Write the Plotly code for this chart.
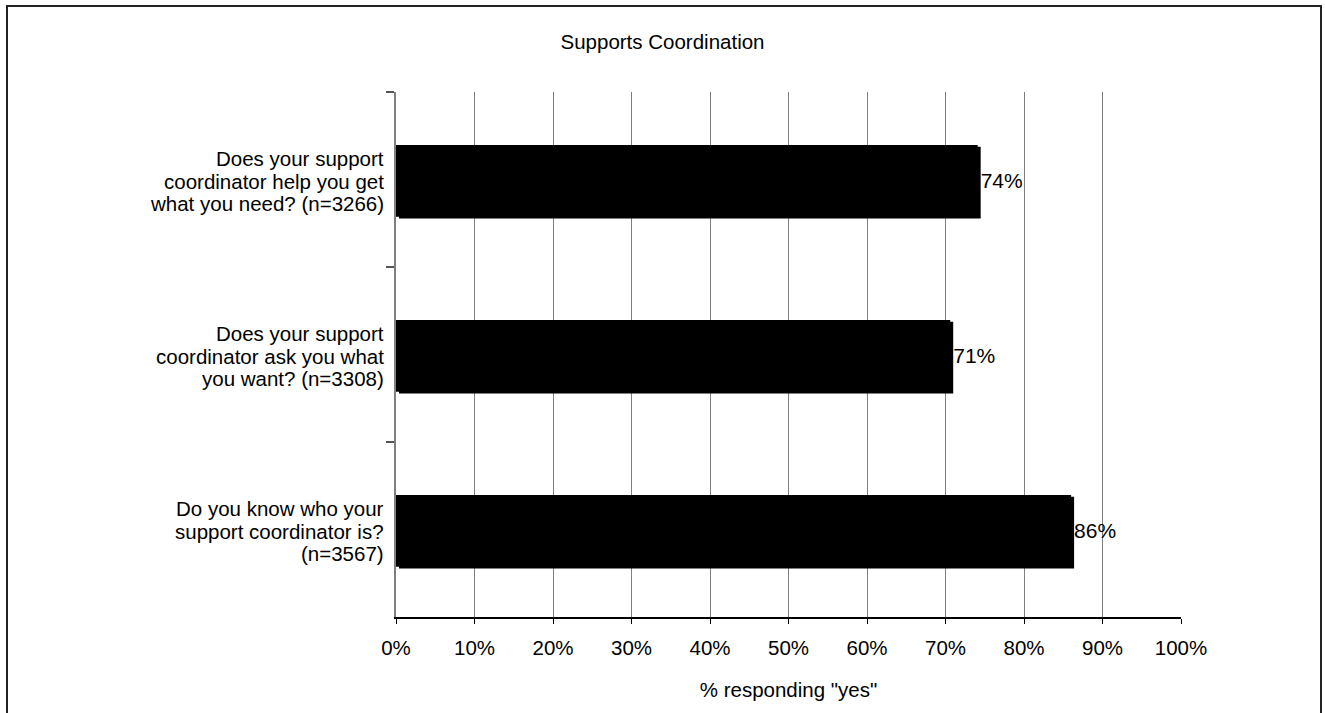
import plotly.graph_objects as go

categories = [
    "Does your support<br>coordinator help you get<br>what you need? (n=3266)",
    "Does your support<br>coordinator ask you what<br>you want? (n=3308)",
    "Do you know who your<br>support coordinator is?<br>(n=3567)",
]
values = [74.1, 70.6, 86.0]
labels = ["74%", "71%", "86%"]
x_ticks = list(range(0, 101, 10))
x_tick_labels = [f"{t}%" for t in x_ticks]

W, H = 1325, 713
ml, mr, mt, mb = 396, 144, 92, 96
pw, ph = W - ml - mr, H - mt - mb
FONT = "Liberation Sans, Arial"
FS = 20.5
LINE_H = 22.5

bw = 0.41
dx = 3 / pw * 100     # shadow shift in x data units
dy = 3 / (ph / 3)     # shadow shift in category units

fig = go.Figure()
# shadow
fig.add_trace(go.Bar(
    y=categories, x=values, base=[dx] * len(values), orientation="h",
    width=bw, offset=-bw / 2 + dy, marker=dict(color="black", line=dict(width=0)),
    hoverinfo="skip", showlegend=False,
))
# main bar
fig.add_trace(go.Bar(
    y=categories, x=values, orientation="h",
    width=bw, offset=-bw / 2 + 0.008, marker=dict(color="black", line=dict(width=0)),
    text=labels, textposition="outside", cliponaxis=False,
    textfont=dict(family=FONT, size=FS + 0.5, color="black"),
    showlegend=False,
))

# category labels with tight line spacing
annotations = []
for cat in categories:
    lines = cat.split("<br>")
    n = len(lines)
    for j, ln in enumerate(lines):
        annotations.append(dict(
            x=0, xref="paper", y=cat, yref="y",
            text=ln, showarrow=False, xanchor="right", yanchor="middle",
            xshift=-10, yshift=((n - 1) / 2 - j) * LINE_H - 1.5,
            font=dict(family=FONT, size=FS, color="black"),
        ))

fig.update_layout(
    width=W, height=H,
    margin=dict(l=ml, r=mr, t=mt, b=mb),
    paper_bgcolor="white", plot_bgcolor="white",
    barmode="overlay",
    font=dict(family=FONT, size=FS, color="black"),
    title=dict(text="Supports Coordination", x=0.5, xanchor="center",
               y=1 - 42 / H, yanchor="middle",
               font=dict(size=FS, family=FONT, color="black")),
    xaxis=dict(
        range=[0, 100], tickvals=x_ticks, ticktext=x_tick_labels,
        showgrid=True, gridcolor="#7f7f7f", gridwidth=1,
        showline=True, linecolor="black", linewidth=1.5,
        ticks="outside", ticklen=5, tickcolor="black",
        zeroline=False, ticklabelstandoff=7,
        tickfont=dict(size=FS),
        title=dict(text='% responding "yes"', font=dict(size=FS), standoff=24),
    ),
    yaxis=dict(
        autorange="reversed", type="category",
        showline=True, linecolor="#7f7f7f", linewidth=2,
        ticks="outside", ticklen=8, tickcolor="#555555", tickwidth=2,
        tickson="boundaries", showgrid=False, showticklabels=False,
    ),
    annotations=annotations,
    shapes=[dict(
        type="rect", xref="paper", yref="paper",
        x0=(7 - ml) / pw, x1=(1321 - ml) / pw,
        y0=(mt + ph - 730) / ph, y1=1 + (mt - 6) / ph,
        line=dict(color="#222222", width=2), fillcolor="rgba(0,0,0,0)",
        layer="below",
    )],
)

fig.write_html(
    "out.html",
    config={"displayModeBar": False},
    post_script="document.body.style.margin='0';document.body.style.overflow='hidden';",
)
